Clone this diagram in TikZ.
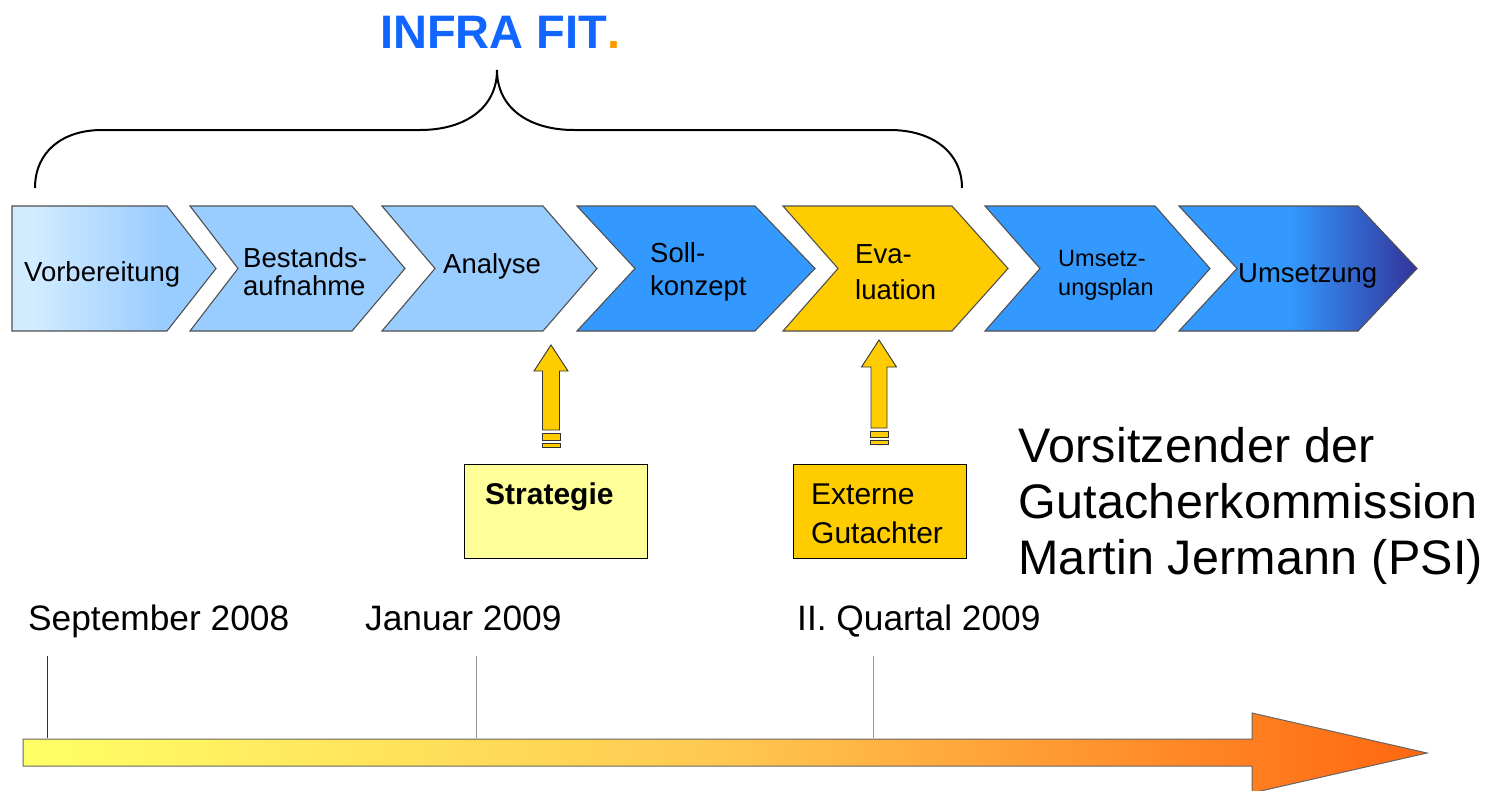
\documentclass[tikz,border=0pt]{standalone}
\usepackage{fontspec}
\setmainfont{Liberation Sans}
\definecolor{lbA}{HTML}{D2ECFF}
\definecolor{lbB}{HTML}{99CCFF}
\definecolor{mblue}{HTML}{3399FF}
\definecolor{navy}{HTML}{333399}
\definecolor{gold}{HTML}{FFCC00}
\definecolor{pale}{HTML}{FFFF99}
\definecolor{tblue}{HTML}{1166FF}
\definecolor{torange}{HTML}{FF9900}
\definecolor{chevline}{HTML}{505050}
\definecolor{arrY}{HTML}{FFFF66}
\definecolor{arrM}{HTML}{FFC850}
\definecolor{arrO}{HTML}{FF6610}
\pgfdeclarehorizontalshading{chevfirst}{100bp}{color(0bp)=(lbA); color(30bp)=(lbA); color(62bp)=(lbB); color(100bp)=(lbB)}
\pgfdeclarehorizontalshading{chevlast}{100bp}{color(0bp)=(mblue); color(48bp)=(mblue); color(75bp)=(navy); color(100bp)=(navy)}
\pgfdeclarehorizontalshading{timearrow}{100bp}{color(0bp)=(arrY); color(25bp)=(arrY); color(50bp)=(arrM); color(75bp)=(arrO); color(100bp)=(arrO)}
% left x, notch depth, tip x, tip depth, style
\newcommand\mkchev[5]{%
  \path[chevbox,#5] (#1,206) -- ({#3-#4},206) -- (#3,268.5) -- ({#3-#4},331) -- (#1,331) -- ({#1+#2},268.5) -- cycle;}
% centre x, tip y, head half width, shaft half width, head base y, shaft bottom y
\newcommand\yarrow[6]{%
  \path[yarr] (#1,#2) -- ({#1+#3},#5) -- ({#1+#4},#5) -- ({#1+#4},#6) -- ({#1-#4},#6) -- ({#1-#4},#5) -- ({#1-#3},#5) -- cycle;}
\begin{document}
\begin{tikzpicture}[x=1pt,y={(0pt,-1pt)},
  chevbox/.style={draw=chevline,line width=1.1pt,line join=miter},
  lbl/.style={anchor=base west,inner sep=0pt,font=\fontsize{27.5}{31}\selectfont},
  slbl/.style={anchor=base west,inner sep=0pt,font=\fontsize{23.5}{27}\selectfont},
  boxtxt/.style={anchor=base west,inner sep=0pt,font=\fontsize{30}{34}\selectfont},
  datelbl/.style={anchor=base west,inner sep=0pt,font=\fontsize{35.3}{40}\selectfont},
  bigtxt/.style={anchor=base west,inner sep=0pt,font=\fontsize{48.5}{56}\addfontfeature{LetterSpace=0.5}\selectfont},
  yarr/.style={draw=black!80,fill=gold,line width=0.9pt,line join=miter},
  infobox/.style={draw=black,line width=1.2pt,inner sep=0pt,anchor=north west,minimum height=94pt},
  tick/.style={line width=1pt}
]
\useasboundingbox (0,0) rectangle (1494,790);
\fill[white] (0,0) rectangle (1494,790);

% title and brace
\node[anchor=base west,inner sep=0pt,font=\fontsize{47}{50}\selectfont\bfseries,text=tblue] (title) at (380,48) {INFRA FIT\textcolor{torange}{.}};
\coordinate (brL) at (35,188);
\coordinate (brT) at (497,70);
\coordinate (brR) at (962,188);
\draw[line width=2pt] (brL) .. controls (35,152) and (62,130) .. (102,130) -- (420,130)
  .. controls (465,130) and (497,108) .. (brT)
  .. controls (497,108) and (529,130) .. (574,130) -- (890,130)
  .. controls (932,130) and (962,152) .. (brR);

% chevrons
\mkchev{12}{0}{216}{49}{shade,shading=chevfirst}
\mkchev{190}{48}{405}{53}{fill=lbB}
\mkchev{382}{53}{597}{54}{fill=lbB}
\mkchev{577}{58}{815}{60}{fill=mblue}
\mkchev{783}{55}{1008}{56}{fill=gold}
\mkchev{985}{55}{1210}{55}{fill=mblue}
\mkchev{1179}{58}{1417}{59}{shade,shading=chevlast}

% chevron labels
\node[lbl] (vorb) at (24,281) {Vorbereitung};
\node[lbl] (bestA) at (243,267) {Bestands-};
\node[lbl] (bestB) at (243,295) {aufnahme};
\node[lbl] (anal) at (443,273) {Analyse};
\node[lbl] (sollA) at (650,262) {Soll-};
\node[lbl] (sollB) at (650,295) {konzept};
\node[lbl] (evalA) at (855,263) {Eva-};
\node[lbl] (evalB) at (855,299) {luation};
\node[slbl] (umpA) at (1058,266) {Umsetz-};
\node[slbl] (umpB) at (1058,295) {ungsplan};
\node[lbl] (ums) at (1238,282) {Umsetzung};

% input boxes
\node[infobox,fill=pale,minimum width=183pt] (strbox) at (464,464) {};
\node[boxtxt,font=\fontsize{30}{34}\selectfont\bfseries] (strtxt) at (485,504) {Strategie};
\node[infobox,fill=gold,minimum width=173pt] (extbox) at (793,464) {};
\node[boxtxt] (extA) at (811,504) {Externe};
\node[boxtxt] (extB) at (811,543) {Gutachter};

% block arrows
\yarrow{551}{345}{17}{8.5}{371}{430}
\path[yarr] (542,433) rectangle (560,440);
\path[yarr] (542,443) rectangle (560,447);
\yarrow{879}{340}{17.5}{8}{367}{428}
\path[yarr] (870,431) rectangle (888,437);
\path[yarr] (870,440) rectangle (888,444);

% chairman text
\node[bigtxt] (chairA) at (1018,462) {Vorsitzender der};
\node[bigtxt] (chairB) at (1018,518) {Gutacherkommission};
\node[bigtxt] (chairC) at (1018,574) {Martin Jermann (PSI)};

% dates
\node[datelbl] (d1) at (28,630) {September 2008};
\node[datelbl] (d2) at (365,630) {Januar 2009};
\node[datelbl] (d3) at (797,630) {II. Quartal 2009};

% ticks
\coordinate (t1a) at (47,656);  \coordinate (t1b) at (47,738);
\coordinate (t2a) at (476,656); \coordinate (t2b) at (476,738);
\coordinate (t3a) at (873,656); \coordinate (t3b) at (873,738);
\draw[tick,draw=black!80] (t1a) -- (t1b);
\draw[tick,draw=black!40] (t2a) -- (t2b);
\draw[tick,draw=black!40] (t3a) -- (t3b);

% time arrow
\path[shade,shading=timearrow,draw=black!60,line width=1pt,line join=miter]
  (23,739) -- (1252,739) -- (1252,713) -- (1427,753) -- (1252,793) -- (1252,766) -- (23,766) -- cycle;
\end{tikzpicture}
\end{document}
